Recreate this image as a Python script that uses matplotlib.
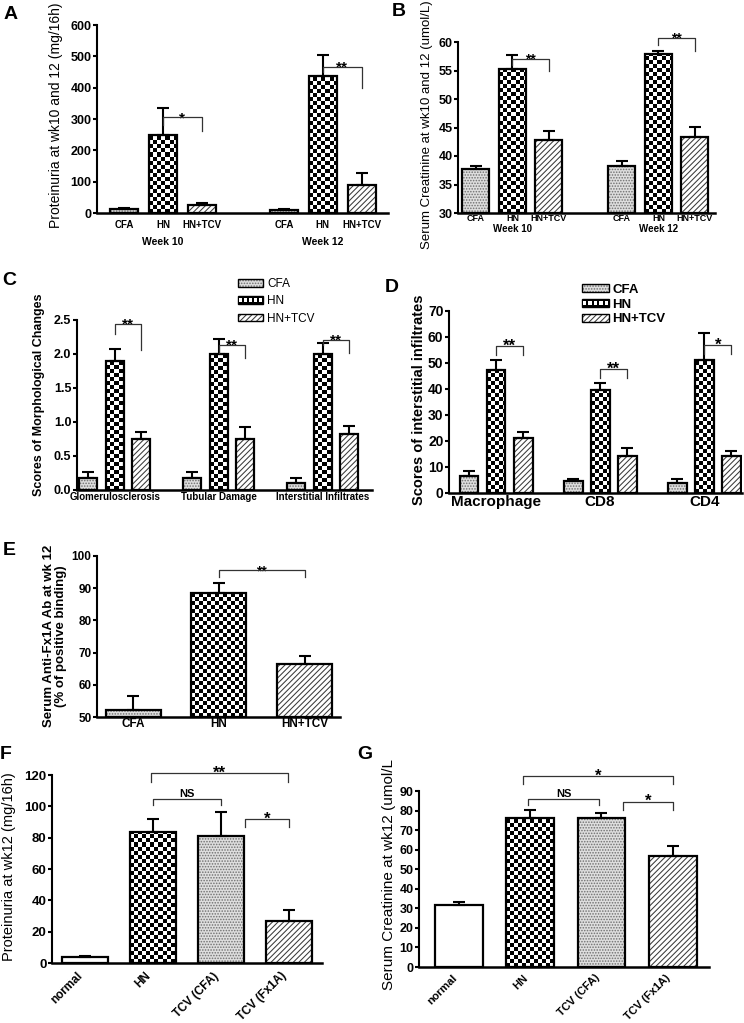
import numpy as np
import matplotlib
matplotlib.use('Agg')
import matplotlib.pyplot as plt
from matplotlib.patches import Rectangle
from matplotlib.legend_handler import HandlerBase

plt.rcParams['font.family'] = ['Liberation Sans', 'DejaVu Sans']
plt.rcParams['hatch.linewidth'] = 0.75

W, H = 744, 1023

# ---- values ----
trt3 = ['CFA', 'HN', 'HN+TCV']

a_weeks = ['Week 10', 'Week 12']
a_mean = [12, 250, 24, 9, 437, 90]
a_err = [3, 85, 7, 3, 67, 38]
a_sig = [(1, 2, 305, 280, 262, '*'), (4, 5, 467, 451, 398, '**')]

b_mean = [37.8, 55.3, 42.8, 38.3, 57.9, 43.3]
b_err = [0.5, 2.4, 1.5, 0.8, 0.6, 1.8]
b_sig = [(1, 2, 57.1, 55.9, 54.9, '**'), (4, 5, 60.7, 59.4, 58.4, '**')]

c_cats = ['Glomerulosclerosis', 'Tubular Damage', 'Interstitial Infiltrates']
c_mean = [0.17, 1.9, 0.75, 0.17, 2.0, 0.75, 0.1, 2.0, 0.83]
c_err = [0.1, 0.18, 0.11, 0.1, 0.22, 0.17, 0.07, 0.16, 0.11]
c_sig = [(1, 2, 2.44, 2.30, 2.06, '**'), (4, 5, 2.13, 2.01, 1.94, '**'),
         (7, 8, 2.21, 2.13, 2.02, '**')]

d_cats = ['Macrophage', 'CD8', 'CD4']
d_mean = [6.6, 47.5, 21.3, 4.7, 39.8, 14.4, 3.8, 51.1, 14.4]
d_err = [1.7, 3.8, 2.1, 0.8, 2.6, 2.8, 1.6, 10.5, 1.6]
d_sig = [(1, 2, 56.4, 53.0, 53.0, '**'), (4, 5, 47.8, 44.4, 44.4, '**'),
         (7, 8, 56.8, 53.6, 53.6, '*')]

e_mean = [52.3, 88.4, 66.4]
e_err = [4.1, 3.3, 2.4]
e_sig = [(1, 2, 95.5, 93.6, 93.6, '**')]

fg_cats = ['normal', 'HN', 'TCV (CFA)', 'TCV (Fx1A)']
f_mean = [3.6, 83.9, 81.1, 26.6]
f_err = [1.1, 7.9, 15.5, 7.4]
f_sig = [(0.96, 2.98, 121.5, 115.8, 115.8, '**'), (0.99, 1.99, 104.5, 100.9, 100.9, 'NS'),
         (2.35, 3.09, 91.8, 86.7, 86.7, '*')]

g_mean = [31.8, 76.0, 76.0, 56.8]
g_err = [1.2, 4.1, 2.6, 5.3]
g_sig = [(0.9, 3.1, 97.8, 93.6, 93.6, '*'), (0.97, 1.97, 85.7, 82.9, 82.9, 'NS'),
         (2.31, 3.06, 84.6, 80.3, 80.3, '*')]

kinds3 = ['dots', 'checker', 'diag']
kinds4 = ['white', 'checker', 'dots', 'diag']

fig = plt.figure(figsize=(W / 100, H / 100), dpi=100)
checkers = []


def px_axes(l, r, t, b):
    return fig.add_axes([l / W, 1 - b / H, (r - l) / W, (b - t) / H])


def bars(ax, xs, means, errs, kinds, width, base=0):
    for x, m, k in zip(xs, means, kinds):
        hgt = m - base
        if k == 'dots':
            ax.bar(x, hgt, width, bottom=base, color='#dedede', edgecolor='#707070',
                   hatch='......', lw=0, zorder=2)
        elif k == 'diag':
            ax.bar(x, hgt, width, bottom=base, color='white', edgecolor='#3a3a3a',
                   hatch='//////', lw=0, zorder=2)
        elif k == 'checker':
            b = ax.bar(x, hgt, width, bottom=base, color='white', lw=0, zorder=2)[0]
            checkers.append((ax, b))
        else:
            ax.bar(x, hgt, width, bottom=base, color='white', lw=0, zorder=2)
        ax.bar(x, hgt, width, bottom=base, fill=False, edgecolor='black', lw=1.6, zorder=4)
    ax.errorbar(xs, means, yerr=[np.zeros(len(errs)), errs], fmt='none', ecolor='black',
                elinewidth=1.5, capsize=4.5, capthick=1.5, zorder=3)


def style(ax, xlim, ylim, yticks, fmt, tsize):
    ax.set_xlim(*xlim)
    ax.set_ylim(*ylim)
    ax.set_yticks(yticks)
    ax.set_yticklabels([fmt.format(v) for v in yticks], fontsize=tsize, fontweight='bold')
    for s in ('top', 'right'):
        ax.spines[s].set_visible(False)
    ax.spines['left'].set_linewidth(1.5)
    ax.spines['bottom'].set_linewidth(1.8)
    ax.tick_params(axis='y', length=3, width=1.5, pad=1)
    ax.tick_params(axis='x', length=0)


def brackets(ax, xs, sig, size=11):
    xs = np.asarray(xs, float)
    for i, j, top, yl, yr, lab in sig:
        x1 = np.interp(i, np.arange(len(xs)), xs)
        x2 = np.interp(j, np.arange(len(xs)), xs)
        ax.plot([x1, x1, x2, x2], [yl, top, top, yr], color='#333333', lw=0.9,
                clip_on=False, zorder=5)
        if lab == 'NS':
            ax.annotate(lab, ((x1 + x2) / 2, top), xytext=(0, 0), textcoords='offset points',
                        ha='center', va='bottom', fontsize=8, fontweight='bold',
                        annotation_clip=False)
        else:
            ax.annotate(lab, ((x1 + x2) / 2, top), xytext=(0, -5.5), textcoords='offset points',
                        ha='center', va='bottom', fontsize=size, fontweight='bold',
                        annotation_clip=False)


def ylab(text, x, y, size, weight='normal'):
    fig.text(x / W, 1 - y / H, text, rotation=90, ha='center', va='center',
             fontsize=size, fontweight=weight, linespacing=1.1)


def grouped(ng, gap):
    return np.array([g * gap + i for g in range(ng) for i in range(3)], float)


# ---- A ----
axA = px_axes(97, 388, 25, 213)
xa = grouped(2, 4.1)
bars(axA, xa, a_mean, a_err, kinds3 * 2, 0.7)
style(axA, (-0.69, 6.77), (0, 600), np.arange(0, 601, 100), '{:.0f}', 9)
axA.set_xticks(xa, trt3 * 2, fontsize=7, fontweight='bold')
axA.tick_params(axis='x', pad=5)
for g, wk in enumerate(a_weeks):
    axA.annotate(wk, (xa[3 * g + 1], 0), xycoords=('data', 'axes fraction'), xytext=(0, -21),
                 textcoords='offset points', ha='center', va='center', fontsize=7.5, fontweight='bold')
brackets(axA, xa, a_sig)
ylab('Proteinuria at wk10 and 12 (mg/16h)', 56, 115, 10)

# ---- B ----
axB = px_axes(458, 715, 42, 213)
xb = grouped(2, 4.0)
bars(axB, xb, b_mean, b_err, kinds3 * 2, 0.74, base=30)
style(axB, (-0.49, 6.55), (30, 60), np.arange(30, 61, 5), '{:.0f}', 9)
axB.set_xticks(xb, trt3 * 2, fontsize=6.5, fontweight='bold')
axB.tick_params(axis='x', pad=1)
for g, wk in enumerate(a_weeks):
    axB.annotate(wk, (xb[3 * g + 1], 0), xycoords=('data', 'axes fraction'), xytext=(0, -11.5),
                 textcoords='offset points', ha='center', va='center', fontsize=7, fontweight='bold')
brackets(axB, xb, b_sig, 10)
ylab('Serum Creatinine at wk10 and 12 (umol/L)', 427, 125, 9.5)

# ---- C ----
axC = px_axes(77, 372, 320, 490)
xc = grouped(3, 3.92)
bars(axC, xc, c_mean, c_err, kinds3 * 3, 0.68)
style(axC, (-0.42, 10.7), (0, 2.5), np.arange(0, 2.51, 0.5), '{:.1f}', 9)
axC.set_xticks(xc[1::3], c_cats, fontsize=7, fontweight='bold')
axC.tick_params(axis='x', pad=1.5)
brackets(axC, xc, c_sig)
ylab('Scores of Morphological Changes', 39, 395, 9, 'bold')

# ---- D ----
axD = px_axes(449, 742, 311, 493)
xd = grouped(3, 3.85)
bars(axD, xd, d_mean, d_err, kinds3 * 3, 0.7)
style(axD, (-0.74, 10.1), (0, 70), np.arange(0, 71, 10), '{:.0f}', 10)
axD.set_xticks(xd[1::3], d_cats, fontsize=11, fontweight='bold')
axD.tick_params(axis='x', pad=1.5)
brackets(axD, xd, d_sig, 12)
ylab('Scores of interstitial infiltrates', 419, 400, 10.5, 'bold')

# ---- E ----
axE = px_axes(97, 340, 556, 717)
xe = np.arange(len(e_mean), dtype=float)
bars(axE, xe, e_mean, e_err, kinds3, 0.64, base=50)
style(axE, (-0.42, 2.41), (50, 100), np.arange(50, 101, 10), '{:.0f}', 8.5)
axE.set_xticks(xe, trt3, fontsize=8.5, fontweight='bold')
axE.tick_params(axis='x', pad=1)
brackets(axE, xe, e_sig, 10)
ylab('Serum Anti-Fx1A Ab at wk 12\n(% of positive binding)', 55, 636, 9.5, 'bold')

# ---- F ----
axF = px_axes(52, 322, 775, 963)
xf = np.arange(len(f_mean), dtype=float)
bars(axF, xf, f_mean, f_err, kinds4, 0.68)
style(axF, (-0.49, 3.48), (0, 120), np.arange(0, 121, 20), '{:.0f}', 9.5)
axF.set_xticks(xf, fg_cats, fontsize=8.5, fontweight='bold', rotation=45, ha='right')
axF.tick_params(axis='x', pad=5)
brackets(axF, xf, f_sig, 12)
ylab('Proteinuria at wk12 (mg/16h)', 9, 867, 10.5)

# ---- G ----
axG = px_axes(419, 709, 791, 967)
xg = np.arange(len(g_mean), dtype=float)
bars(axG, xg, g_mean, g_err, kinds4, 0.67)
style(axG, (-0.56, 3.51), (0, 90), np.arange(0, 91, 10), '{:.0f}', 9)
axG.set_xticks(xg, fg_cats, fontsize=8, fontweight='bold', rotation=45, ha='right')
axG.tick_params(axis='x', pad=4)
brackets(axG, xg, g_sig, 12)
ylab('Serum Creatinine at wk12 (umol/L', 389, 874, 11)

# ---- checkerboard fill for HN bars ----
cell = 4.0
for ax, b in checkers:
    xl, yl = ax.get_xlim(), ax.get_ylim()
    x0, y0, w, h = b.get_x(), b.get_y(), b.get_width(), b.get_height()
    (p0x, p0y), (p1x, p1y) = ax.transData.transform([(x0, y0), (x0 + w, y0 + h)])
    nx = int(np.ceil((p1x - p0x) / cell))
    ny = max(1, int(np.ceil((p1y - p0y) / cell)))
    board = np.indices((ny, nx)).sum(axis=0) % 2
    x1 = x0 + nx * cell * w / (p1x - p0x)
    y1 = y0 + ny * cell * h / (p1y - p0y)
    im = ax.imshow(board, cmap='gray', extent=(x0, x1, y0, y1), origin='lower',
                   aspect='auto', interpolation='nearest', zorder=2.5)
    im.set_clip_path(b)
    ax.set_xlim(xl)
    ax.set_ylim(yl)


# ---- legends for C and D ----
class BarHandle(HandlerBase):
    def create_artists(self, legend, orig, xd, yd, w, h, fs, trans):
        k = orig.get_gid()
        x, y = -xd, -yd
        arts = []
        if k == 'checker':
            arts.append(Rectangle((x, y), w, h, facecolor='black', edgecolor='black', lw=1, transform=trans))
            n = 5
            s = h * 0.45
            for i in range(n):
                cx = x + (i + 0.5) * w / n
                arts.append(Rectangle((cx - s / 2, y + (h - s) / 2), s, s, facecolor='white', lw=0, transform=trans))
            return arts
        if k == 'dots':
            arts.append(Rectangle((x, y), w, h, facecolor='#dedede', edgecolor='#707070', hatch='......', lw=0, transform=trans))
        else:
            arts.append(Rectangle((x, y), w, h, facecolor='white', edgecolor='#3a3a3a', hatch='//////', lw=0, transform=trans))
        arts.append(Rectangle((x, y), w, h, fill=False, edgecolor='black', lw=1, transform=trans))
        return arts


def make_handles():
    hs = []
    for k in kinds3:
        r = Rectangle((0, 0), 1, 1)
        r.set_gid(k)
        hs.append(r)
    return hs


fig.legend(make_handles(), trt3, loc='upper left', bbox_to_anchor=(238 / W, 1 - 278 / H),
           frameon=False, borderpad=0, borderaxespad=0, handlelength=2.1, handleheight=0.6,
           handletextpad=0.35, labelspacing=0.45, prop={'size': 8.5},
           handler_map={Rectangle: BarHandle()})
fig.legend(make_handles(), trt3, loc='upper left', bbox_to_anchor=(582 / W, 1 - 284 / H),
           frameon=False, borderpad=0, borderaxespad=0, handlelength=2.05, handleheight=0.55,
           handletextpad=0.25, labelspacing=0.2, prop={'size': 9.5, 'weight': 'bold'},
           handler_map={Rectangle: BarHandle()})

# ---- panel letters ----
for let, x, y in [('A', 4, 6), ('B', 392, 3), ('C', 2, 272), ('D', 385, 279),
                  ('E', 3, 542), ('F', 0, 746), ('G', 357, 746)]:
    fig.text(x / W, 1 - y / H, let, fontsize=14, fontweight='bold', ha='left', va='top')

fig.savefig('out.png', dpi=100)
